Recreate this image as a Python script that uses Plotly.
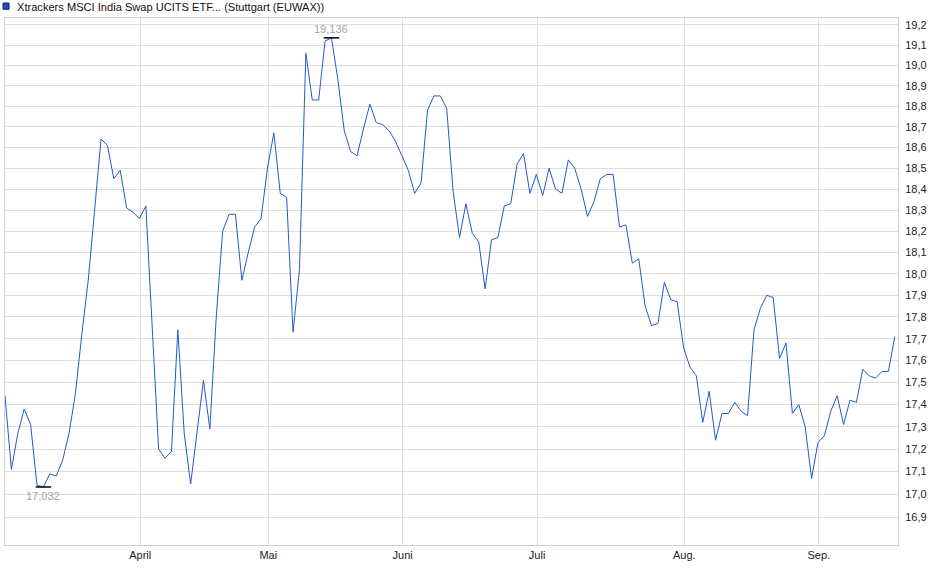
import numpy as np
import pandas as pd
import plotly.graph_objects as go

# Handelstage Stuttgart (EUWAX), Feb 28 - Sep 16 2025
holidays = ["2025-04-18", "2025-04-21", "2025-05-01"]
days = pd.bdate_range("2025-02-28", "2025-09-16")
days = days[~days.isin(pd.to_datetime(holidays))]
dates = days + pd.Timedelta(hours=21)

prices = [
    # Feb/Mär
    17.44, 17.11, 17.27, 17.38, 17.31, 17.04, 17.032, 17.09, 17.08, 17.15,
    17.27, 17.45, 17.72, 17.97, 18.30, 18.64, 18.61, 18.45, 18.49, 18.31,
    18.29, 18.26,
    # April
    18.32, 17.75, 17.20, 17.16, 17.19, 17.74, 17.27, 17.045, 17.28, 17.51,
    17.29, 17.80, 18.20, 18.28, 18.28, 17.97, 18.10, 18.22, 18.26, 18.50,
    # Mai
    18.67, 18.38, 18.36, 17.73, 18.02, 19.06, 18.83, 18.83, 19.12, 19.136,
    18.93, 18.68, 18.58, 18.56, 18.69, 18.81, 18.72, 18.71, 18.68, 18.63,
    18.56,
    # Juni
    18.49, 18.38, 18.43, 18.78, 18.85, 18.85, 18.79, 18.39, 18.17, 18.33,
    18.19, 18.15, 17.93, 18.16, 18.17, 18.32, 18.33, 18.52, 18.57, 18.38,
    18.47,
    # Juli
    18.37, 18.50, 18.40, 18.38, 18.54, 18.50, 18.40, 18.27, 18.34, 18.45,
    18.47, 18.47, 18.22, 18.23, 18.05, 18.07, 17.85, 17.76, 17.77, 17.96,
    17.88, 17.87, 17.66,
    # Aug.
    17.57, 17.53, 17.32, 17.46, 17.24, 17.36, 17.36, 17.41, 17.37, 17.35,
    17.74, 17.84, 17.90, 17.89, 17.61, 17.68, 17.36, 17.40, 17.30, 17.07,
    17.23,
    # Sep.
    17.26, 17.37, 17.44, 17.31, 17.42, 17.41, 17.56, 17.53, 17.52, 17.55,
    17.55, 17.71,
]

month_ticks = ["2025-04-01", "2025-05-02", "2025-06-02", "2025-07-01", "2025-08-01", "2025-09-01"]
month_labels = ["April", "Mai", "Juni", "Juli", "Aug.", "Sep."]

y_ticks = [16.9, 17.0, 17.1, 17.2, 17.3, 17.4, 17.5, 17.6, 17.7, 17.8, 17.9, 18.0,
           18.1, 18.2, 18.3, 18.4, 18.5, 18.6, 18.7, 18.8, 18.9, 19.0, 19.1, 19.2]
y_labels = ["16,9", "17,0", "17,1", "17,2", "17,3", "17,4", "17,5", "17,6", "17,7", "17,8",
            "17,9", "18,0", "18,1", "18,2", "18,3", "18,4", "18,5", "18,6", "18,7", "18,8",
            "18,9", "19,0", "19,1", "19,2"]

title = "Xtrackers MSCI India Swap UCITS ETF... (Stuttgart (EUWAX))"

LINE = "#1f5cc9"
GRID = "#dddddd"
FONT = "Liberation Sans, Arial, sans-serif"

fig = go.Figure()
fig.add_trace(go.Scatter(x=dates, y=prices, mode="lines",
                         line=dict(color=LINE, width=1), hoverinfo="x+y"))

# Hoch / Tief markieren
i_max = int(np.argmax(prices))
i_min = int(np.argmin(prices))
fig.add_trace(go.Scatter(
    x=[dates[i_max], dates[i_min]], y=[prices[i_max], prices[i_min]],
    mode="markers",
    marker=dict(symbol="line-ew", size=11, line=dict(color="black", width=1.5)),
    hoverinfo="skip"))
for i, shift in [(i_max, 9), (i_min, -9)]:
    fig.add_annotation(x=dates[i], y=np.log10(prices[i]),
                       text=f"{prices[i]:.3f}".replace(".", ","),
                       showarrow=False, yshift=shift, yanchor="middle",
                       font=dict(family=FONT, size=11, color="#a3a3a3"))

# Legende oben links
fig.add_shape(type="rect", xref="paper", yref="paper",
              x0=-0.0022, x1=0.0045, y0=1.0165, y1=1.0285,
              fillcolor="#1f4fbf", line=dict(color="#0a2a6a", width=1))
fig.add_annotation(xref="paper", yref="paper", x=0.0112, y=1.0215,
                   xanchor="left", yanchor="middle", showarrow=False,
                   text=title, font=dict(family=FONT, size=11.1, color="#111111"))

fig.update_layout(
    width=940, height=579,
    margin=dict(l=5, r=42, t=18, b=34),
    paper_bgcolor="white", plot_bgcolor="white",
    showlegend=False,
    font=dict(family=FONT, size=11, color="#222222"),
)
fig.update_xaxes(
    type="date",
    range=["2025-02-28 21:00", "2025-09-17 09:00"],
    rangebreaks=[dict(bounds=["sat", "mon"]), dict(values=holidays)],
    tickvals=month_ticks, ticktext=month_labels,
    showgrid=True, gridcolor=GRID, gridwidth=1,
    showline=True, linecolor="#d0d0d0", mirror=True,
    ticks="", zeroline=False,
)
fig.update_yaxes(
    type="log", side="right",
    range=[1.224733, 1.284089],
    tickvals=y_ticks, ticktext=y_labels,
    showgrid=True, gridcolor=GRID, gridwidth=1,
    showline=True, linecolor="#d0d0d0", mirror=True,
    ticks="", ticklabelstandoff=4, zeroline=False,
)

# Seitenrand des Browsers entfernen, keine Werkzeugleiste
fig.write_html("out.html", config={"displayModeBar": False},
               post_script="document.body.style.margin='0';")
